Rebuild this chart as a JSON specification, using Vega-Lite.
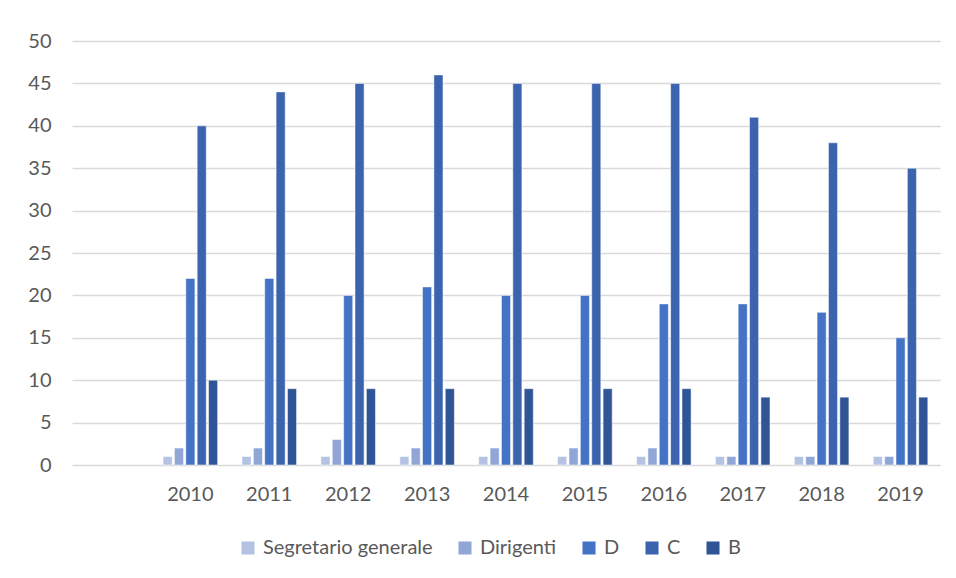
{
  "$schema": "https://vega.github.io/schema/vega-lite/v6.json",
  "autosize": "none",
  "width": 868,
  "height": 424,
  "padding": {"left": 72, "top": 41, "right": 16, "bottom": 113},
  "background": "white",
  "config": {
    "font": "Lato",
    "view": {"stroke": null},
    "axis": {"labelFont": "Lato", "labelFontSize": 20, "labelColor": "#595959"}
  },
  "data": {
    "values": [
      {"anno": "2010", "categoria": "Segretario generale", "valore": 1},
      {"anno": "2010", "categoria": "Dirigenti", "valore": 2},
      {"anno": "2010", "categoria": "D", "valore": 22},
      {"anno": "2010", "categoria": "C", "valore": 40},
      {"anno": "2010", "categoria": "B", "valore": 10},
      {"anno": "2011", "categoria": "Segretario generale", "valore": 1},
      {"anno": "2011", "categoria": "Dirigenti", "valore": 2},
      {"anno": "2011", "categoria": "D", "valore": 22},
      {"anno": "2011", "categoria": "C", "valore": 44},
      {"anno": "2011", "categoria": "B", "valore": 9},
      {"anno": "2012", "categoria": "Segretario generale", "valore": 1},
      {"anno": "2012", "categoria": "Dirigenti", "valore": 3},
      {"anno": "2012", "categoria": "D", "valore": 20},
      {"anno": "2012", "categoria": "C", "valore": 45},
      {"anno": "2012", "categoria": "B", "valore": 9},
      {"anno": "2013", "categoria": "Segretario generale", "valore": 1},
      {"anno": "2013", "categoria": "Dirigenti", "valore": 2},
      {"anno": "2013", "categoria": "D", "valore": 21},
      {"anno": "2013", "categoria": "C", "valore": 46},
      {"anno": "2013", "categoria": "B", "valore": 9},
      {"anno": "2014", "categoria": "Segretario generale", "valore": 1},
      {"anno": "2014", "categoria": "Dirigenti", "valore": 2},
      {"anno": "2014", "categoria": "D", "valore": 20},
      {"anno": "2014", "categoria": "C", "valore": 45},
      {"anno": "2014", "categoria": "B", "valore": 9},
      {"anno": "2015", "categoria": "Segretario generale", "valore": 1},
      {"anno": "2015", "categoria": "Dirigenti", "valore": 2},
      {"anno": "2015", "categoria": "D", "valore": 20},
      {"anno": "2015", "categoria": "C", "valore": 45},
      {"anno": "2015", "categoria": "B", "valore": 9},
      {"anno": "2016", "categoria": "Segretario generale", "valore": 1},
      {"anno": "2016", "categoria": "Dirigenti", "valore": 2},
      {"anno": "2016", "categoria": "D", "valore": 19},
      {"anno": "2016", "categoria": "C", "valore": 45},
      {"anno": "2016", "categoria": "B", "valore": 9},
      {"anno": "2017", "categoria": "Segretario generale", "valore": 1},
      {"anno": "2017", "categoria": "Dirigenti", "valore": 1},
      {"anno": "2017", "categoria": "D", "valore": 19},
      {"anno": "2017", "categoria": "C", "valore": 41},
      {"anno": "2017", "categoria": "B", "valore": 8},
      {"anno": "2018", "categoria": "Segretario generale", "valore": 1},
      {"anno": "2018", "categoria": "Dirigenti", "valore": 1},
      {"anno": "2018", "categoria": "D", "valore": 18},
      {"anno": "2018", "categoria": "C", "valore": 38},
      {"anno": "2018", "categoria": "B", "valore": 8},
      {"anno": "2019", "categoria": "Segretario generale", "valore": 1},
      {"anno": "2019", "categoria": "Dirigenti", "valore": 1},
      {"anno": "2019", "categoria": "D", "valore": 15},
      {"anno": "2019", "categoria": "C", "valore": 35},
      {"anno": "2019", "categoria": "B", "valore": 8}
    ]
  },
  "mark": {"type": "bar", "stroke": "white", "strokeWidth": 0.5},
  "encoding": {
    "x": {
      "field": "anno",
      "type": "nominal",
      "scale": {"domain": [" ", "2010", "2011", "2012", "2013", "2014", "2015", "2016", "2017", "2018", "2019"], "paddingInner": 0.28, "paddingOuter": 0.14},
      "axis": {"title": null, "labelAngle": 0, "ticks": false, "domain": false, "grid": false, "labelPadding": 19}
    },
    "xOffset": {
      "field": "categoria",
      "type": "nominal",
      "sort": ["Segretario generale", "Dirigenti", "D", "C", "B"],
      "scale": {"paddingInner": 0.2, "paddingOuter": 0.1}
    },
    "y": {
      "field": "valore",
      "type": "quantitative",
      "scale": {"domain": [0, 50]},
      "axis": {"title": null, "values": [0, 5, 10, 15, 20, 25, 30, 35, 40, 45, 50], "ticks": false, "domain": false, "gridColor": "#D9D9D9", "gridWidth": 1.3, "labelPadding": 21}
    },
    "color": {
      "field": "categoria",
      "type": "nominal",
      "sort": ["Segretario generale", "Dirigenti", "D", "C", "B"],
      "scale": {"domain": ["Segretario generale", "Dirigenti", "D", "C", "B"], "range": ["#B4C2E4", "#8FA6D7", "#4472C4", "#3C64AE", "#2F5597"]},
      "legend": {
        "title": null,
        "orient": "none",
        "legendX": 166,
        "legendY": 497,
        "direction": "horizontal",
        "symbolType": "square",
        "symbolSize": 170,
        "symbolStrokeWidth": 0,
        "labelFontSize": 20,
        "labelColor": "#595959",
        "labelFont": "Lato",
        "labelLimit": 0,
        "labelOffset": 5,
        "columnPadding": 22
      }
    }
  }
}
